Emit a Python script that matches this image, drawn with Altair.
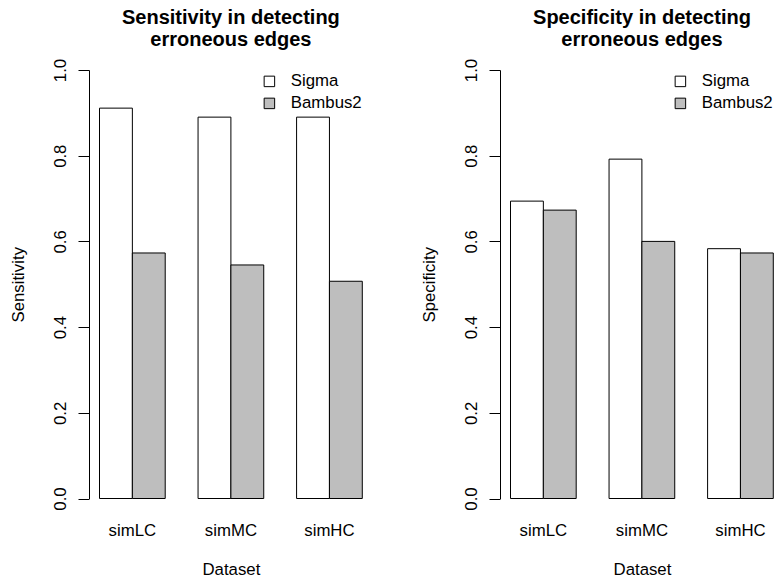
import altair as alt
import pandas as pd

# ---- data ----
datasets = ["simLC", "simMC", "simHC"]
methods = ["Sigma", "Bambus2"]
sensitivity_sigma = [0.911, 0.890, 0.890]
sensitivity_bambus2 = [0.573, 0.545, 0.507]
specificity_sigma = [0.694, 0.792, 0.583]
specificity_bambus2 = [0.673, 0.600, 0.573]
y_ticks = [0.0, 0.2, 0.4, 0.6, 0.8, 1.0]
fill_colors = ["white", "#bebebe"]

FONT = "Liberation Sans"
FS = 16.8
PLOT_H = 428.5


def make_table(sigma, bambus):
    rows = []
    for d, s, b in zip(datasets, sigma, bambus):
        rows.append({"Dataset": d, "Method": methods[0], "Value": s})
        rows.append({"Dataset": d, "Method": methods[1], "Value": b})
    return pd.DataFrame(rows)


def panel(sigma, bambus, title_lines, ytitle, width, pad_outer, align, center_shift):
    df = make_table(sigma, bambus)
    return (
        alt.Chart(df)
        .mark_bar(stroke="black", strokeWidth=1)
        .encode(
            x=alt.X(
                "Dataset:N",
                sort=datasets,
                scale=alt.Scale(paddingInner=1 / 3, paddingOuter=pad_outer, align=align),
                axis=alt.Axis(
                    title="Dataset",
                    labelAngle=0,
                    ticks=False,
                    tickSize=0,
                    domain=False,
                    labelPadding=32,
                    labelBaseline="middle",
                    labelFontSize=FS,
                    labelFont=FONT,
                    labelColor="black",
                    titleFontSize=FS,
                    titleFont=FONT,
                    titleFontWeight="normal",
                    titleColor="black",
                    titleBaseline="middle",
                    titleAlign="center",
                    titleY=71,
                    titleX=width / 2 + center_shift,
                ),
            ),
            xOffset=alt.XOffset(
                "Method:N",
                sort=methods,
                scale=alt.Scale(domain=methods, paddingInner=0, paddingOuter=0),
            ),
            y=alt.Y(
                "Value:Q",
                scale=alt.Scale(domain=[0, 1], nice=False, zero=True),
                axis=alt.Axis(
                    title=ytitle,
                    values=y_ticks,
                    format=".1f",
                    grid=False,
                    labelAngle=270,
                    labelAlign="center",
                    labelBaseline="alphabetic",
                    labelPadding=13,
                    tickSize=11,
                    tickColor="black",
                    domainColor="black",
                    labelFontSize=FS,
                    labelFont=FONT,
                    labelColor="black",
                    labelOverlap=False,
                    titleFontSize=FS,
                    titleFont=FONT,
                    titleFontWeight="normal",
                    titleColor="black",
                    titleAngle=270,
                    titleBaseline="middle",
                    titleAlign="center",
                    titleX=-71,
                    titleY=PLOT_H / 2,
                ),
            ),
            fill=alt.Fill(
                "Method:N",
                sort=methods,
                scale=alt.Scale(domain=methods, range=fill_colors),
                legend=alt.Legend(
                    title=None,
                    orient="none",
                    legendX=172,
                    legendY=3,
                    symbolType="square",
                    symbolSize=110,
                    symbolStrokeColor="black",
                    symbolStrokeWidth=1,
                    labelFontSize=FS,
                    labelFont=FONT,
                    labelColor="black",
                    labelOffset=13,
                    rowPadding=4,
                    padding=0,
                ),
            ),
        )
        .properties(
            width=width,
            height=PLOT_H,
            title=alt.Title(
                text=title_lines,
                fontSize=20,
                fontWeight="bold",
                font=FONT,
                color="black",
                anchor="middle",
                frame="group",
                dx=center_shift,
                offset=8,
                lineHeight=22,
            ),
        )
    )


left = panel(
    sensitivity_sigma,
    sensitivity_bambus2,
    ["Sensitivity in detecting", "erroneous edges"],
    "Sensitivity",
    283.8,
    0.1067,
    0.5,
    0,
)
right = panel(
    specificity_sigma,
    specificity_bambus2,
    ["Specificity in detecting", "erroneous edges"],
    "Specificity",
    273.3,
    0.0533,
    1.0,
    5.3,
)

chart = (
    alt.hconcat(left, right, spacing=48)
    .resolve_scale(x="independent", y="independent", fill="independent")
    .properties(padding={"left": 10, "top": 8, "right": 0, "bottom": 2}, background="white")
    .configure_view(stroke=None)
)

chart.save("out.html", embed_options={"renderer": "svg", "actions": False})
